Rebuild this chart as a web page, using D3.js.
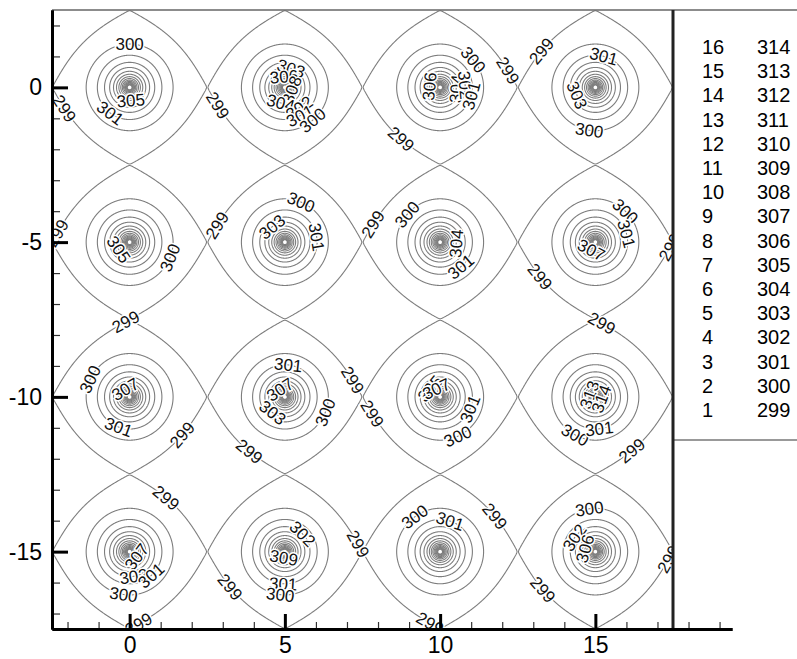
<!DOCTYPE html>
<html>
<head>
<meta charset="utf-8">
<script src="https://cdn.jsdelivr.net/npm/d3@7"></script>
<style>
  html, body { margin: 0; padding: 0; background: #fff; }
  svg { display: block; font-family: "Liberation Sans", Arial, Helvetica, sans-serif; }
</style>
</head>
<body>
<svg id="chart" width="797" height="659"></svg>
<script>
// Peak (source) locations of the 4 x 4 array
const sourceX = [0, 5, 10, 15];
const sourceY = [0, -5, -10, -15];

// Contour levels; the legend numbers them 1..16
const contourLevels = [299, 300, 301, 302, 303, 304, 305, 306, 307, 308, 309, 310, 311, 312, 313, 314];

// Axis ticks
const xTickValues = [0, 5, 10, 15];
const yTickValues = [0, -5, -10, -15];

// Field calibration: level 299 passes through the saddles between neighbouring
// peaks, level 300 lies 1.4 units from a peak.
const saddleLevel = 299;
const ringLevel = 300;
const ringRadius = 1.4;

// In-line contour labels: [column, row, level, direction from the peak (deg)]
const contourLabels = [
  [0,0,300,90],[0,0,305,-85],[0,0,301,-127],[0,0,299,-162],
  [1,0,299,-165],[1,0,303,72],[1,0,306,95],[1,0,308,-20],[1,0,304,-105],[1,0,302,-55],[1,0,301,-62],[1,0,300,-50],
  [2,0,300,40],[2,0,306,175],[2,0,304,-5],[2,0,302,5],[2,0,301,-15],[2,0,299,14],[2,0,299,-127],
  [3,0,299,146],[3,0,301,75],[3,0,303,-157],[3,0,300,-98],
  [0,1,299,173],[0,1,305,-146],[0,1,300,-21],
  [1,1,299,166],[1,1,300,68],[1,1,303,130],[1,1,301,9],
  [2,1,299,165],[2,1,300,140],[2,1,304,-5],[2,1,301,-50],
  [3,1,300,46],[3,1,301,15],[3,1,307,-117],[3,1,299,-4],[3,1,299,-148],
  [0,2,300,156],[0,2,307,120],[0,2,301,-110],[0,2,299,-36],[0,2,299,93],
  [1,2,301,84],[1,2,307,123],[1,2,303,-128],[1,2,300,-21],[1,2,299,14],[1,2,299,-123],
  [2,2,305,140],[2,2,307,115],[2,2,301,-22],[2,2,300,-66],[2,2,299,-166],
  [3,2,313,160],[3,2,314,-20],[3,2,300,-118],[3,2,301,-83],[3,2,299,-56],[3,2,299,85],
  [0,3,299,56],[0,3,307,-37],[0,3,302,-81],[0,3,301,-48],[0,3,300,-98],[0,3,299,-83],
  [1,3,302,45],[1,3,309,-100],[1,3,301,-93],[1,3,300,-96],[1,3,299,-147],[1,3,299,6],
  [2,3,300,126],[2,3,301,72],[2,3,299,33],[2,3,299,-98],
  [3,3,300,98],[3,3,302,146],[3,3,306,164],[3,3,299,-144],[3,3,299,-6]
];

// ---------------------------------------------------------------------------
const period = 5;        // spacing of the peaks
const screening = 1.4;   // decay length of each peak
const images = 3;        // periodic images summed in each direction

// Modified Bessel function K0 (polynomial approximations)
function besselK0(xv) {
  if (xv <= 2) {
    const s = (xv / 3.75) * (xv / 3.75);
    const i0 = 1 + s * (3.5156229 + s * (3.0899424 + s * (1.2067492 + s * (0.2659732 + s * (0.0360768 + s * 0.0045813)))));
    const t = xv * xv / 4;
    return -Math.log(xv / 2) * i0 + (-0.57721566 + t * (0.42278420 + t * (0.23069756 + t * (0.03488590 + t * (0.00262698 + t * (0.00010750 + t * 0.0000074))))));
  }
  const q = 2 / xv;
  return Math.exp(-xv) / Math.sqrt(xv) * (1.25331414 + q * (-0.07832358 + q * (0.02189568 + q * (-0.01062446 + q * (0.00587872 + q * (-0.00251540 + q * 0.00053208))))));
}

// Periodic sum of screened peaks, in local coordinates of one cell
function peakSum(u, v) {
  let s = 0;
  for (let m = -images; m <= images; m++) {
    for (let n = -images; n <= images; n++) {
      const r = Math.hypot(u - m * period, v - n * period) / screening;
      s += besselK0(Math.max(r, 1e-7));
    }
  }
  return s;
}

const amp = (ringLevel - saddleLevel) / (peakSum(ringRadius, 0) - peakSum(period / 2, 0));
const base = saddleLevel - 4e-4 - amp * peakSum(period / 2, 0);
const field = (u, v) => Math.min(base + amp * peakSum(u, v), 316);

// Sample one cell on a fine grid
const N = 400, h = period / N;
const values = new Float64Array(N * N);
for (let j = 0; j < N; j++) {
  const v = -period / 2 + (j + 0.5) * h;
  for (let i = 0; i <= j; i++) {
    const u = -period / 2 + (i + 0.5) * h;
    const f = field(u, v);
    values[j * N + i] = f;
    values[i * N + j] = f;   // field is symmetric under u <-> v
  }
}

// ---------------------------------------------------------------------------
const svg = d3.select("#chart");
const x = d3.scaleLinear().domain([-2.5, 17.5]).range([52, 673]);
const y = d3.scaleLinear().domain([-17.5, 2.5]).range([629, 10]);
const xAxisEnd = 19.4;
const xAxisScale = x.copy().domain([-2.5, xAxisEnd]).range([x(-2.5), x(xAxisEnd)]);

const plotL = x(-2.5), plotR = x(17.5), plotT = y(2.5), plotB = y(-17.5);

svg.append("defs").append("clipPath").attr("id", "plotClip")
  .append("rect").attr("x", plotL).attr("y", plotT).attr("width", plotR - plotL).attr("height", plotB - plotT);

// Contour rings of one cell, in pixels relative to its peak
const rings = d3.contours().size([N, N]).thresholds(contourLevels)(values);
const toLocal = d3.geoTransform({
  point(gx, gy) {
    this.stream.point(x(-period / 2 + gx * h) - x(0), y(-period / 2 + gy * h) - y(0));
  }
});
const ringPath = d3.geoPath(toLocal);
const ringD = rings.map(r => ringPath(r));

const plot = svg.append("g").attr("clip-path", "url(#plotClip)");
const cells = [];
sourceY.forEach((cy, row) => sourceX.forEach((cx, col) => cells.push({ cx, cy, col, row })));

plot.selectAll("g.cell").data(cells).join("g")
  .attr("class", "cell")
  .attr("transform", d => `translate(${x(d.cx)},${y(d.cy)})`)
  .selectAll("path").data(rings.map((r, k) => ({ level: r.value, d: ringD[k] }))).join("path")
  .attr("d", d => d.d)
  .attr("fill", "none")
  .attr("stroke", "#7d7d7d")
  .attr("stroke-width", 1.1);

// Contour labels: placed on their level along a ray from the peak, turned along the line
function labelSpot(level, deg) {
  const t = deg * Math.PI / 180, c = Math.cos(t), s = Math.sin(t);
  const rMax = (period / 2) / Math.max(Math.abs(c), Math.abs(s));
  const step = 0.01;
  let r = 0.005;
  while (r < rMax && field(r * c, r * s) >= level) r += step;
  let lo = Math.max(r - step, 0), hi = Math.min(r, rMax);
  for (let k = 0; k < 30; k++) {
    const mid = (lo + hi) / 2;
    if (field(mid * c, mid * s) >= level) lo = mid; else hi = mid;
  }
  const rr = Math.max((lo + hi) / 2, 0.2);
  const u = rr * c, v = rr * s, e = 1e-3;
  const gu = field(u + e, v) - field(u - e, v);
  const gv = field(u, v + e) - field(u, v - e);
  let ang = Math.atan2(-gu, -gv) * 180 / Math.PI;
  if (ang > 90) ang -= 180;
  if (ang <= -90) ang += 180;
  return { u, v, ang };
}

const labelData = contourLabels.map(([col, row, level, deg]) => {
  const p = labelSpot(level, deg);
  return { level, px: x(sourceX[col] + p.u), py: y(sourceY[row] + p.v), ang: p.ang };
});

plot.append("g").selectAll("text").data(labelData).join("text")
  .attr("transform", d => `translate(${d.px},${d.py}) rotate(${d.ang})`)
  .attr("text-anchor", "middle")
  .attr("dy", "0.35em")
  .attr("font-size", 17)
  .attr("fill", "#111")
  .attr("stroke", "#fff")
  .attr("stroke-width", 3)
  .attr("paint-order", "stroke")
  .text(d => d.level);

// ---------------------------------------------------------------------------
// Frame lines
svg.append("line").attr("x1", plotL).attr("x2", 797).attr("y1", plotT).attr("y2", plotT)
  .attr("stroke", "#666").attr("stroke-width", 1.6);
svg.append("line").attr("x1", plotR).attr("x2", 797).attr("y1", 440).attr("y2", 440)
  .attr("stroke", "#777").attr("stroke-width", 1.4);
svg.append("line").attr("x1", plotR).attr("x2", plotR).attr("y1", plotT).attr("y2", plotB)
  .attr("stroke", "#222").attr("stroke-width", 3);

// Axes: minor ticks every unit, major ticks with labels
const yMinor = d3.range(-17, 3).filter(v => v % 5 !== 0);
const xMinor = d3.range(-2, 20).filter(v => v % 5 !== 0);

function styleAxis(g, width, tickColor) {
  g.select(".domain").attr("stroke", "#000").attr("stroke-width", 3);
  g.selectAll(".tick line").attr("stroke", tickColor).attr("stroke-width", width);
  g.selectAll(".tick text").attr("fill", "#000").attr("font-size", 23)
    .attr("font-family", "'Liberation Sans', Arial, sans-serif");
}

const yMinorG = svg.append("g").attr("transform", `translate(${plotL},0)`)
  .call(d3.axisLeft(y).tickValues(yMinor).tickSize(-8).tickSizeOuter(0).tickFormat(""));
styleAxis(yMinorG, 1.2, "#333");
const yMajorG = svg.append("g").attr("transform", `translate(${plotL},0)`)
  .call(d3.axisLeft(y).tickValues(yTickValues).tickSize(-16).tickSizeOuter(0).tickPadding(10).tickFormat(d => String(d)));
styleAxis(yMajorG, 3, "#000");

const xMinorG = svg.append("g").attr("transform", `translate(0,${plotB})`)
  .call(d3.axisBottom(xAxisScale).tickValues(xMinor).tickSize(-7).tickSizeOuter(0).tickFormat(""));
styleAxis(xMinorG, 1.2, "#333");
const xMajorG = svg.append("g").attr("transform", `translate(0,${plotB})`)
  .call(d3.axisBottom(xAxisScale).tickValues(xTickValues).tickSize(-15).tickSizeOuter(0).tickPadding(8).tickFormat(d => String(d)));
styleAxis(xMajorG, 3, "#000");

// Legend: level number and value
const legendRows = contourLevels.map((v, i) => ({ n: i + 1, v })).reverse();
const legend = svg.append("g").attr("font-size", 20).attr("fill", "#000");
legendRows.forEach((d, k) => {
  const cy = 47 + k * 24.2;
  legend.append("text").attr("x", 702).attr("y", cy).attr("dy", "0.35em").text(d.n);
  legend.append("text").attr("x", 757).attr("y", cy).attr("dy", "0.35em").text(d.v);
});
</script>
</body>
</html>
